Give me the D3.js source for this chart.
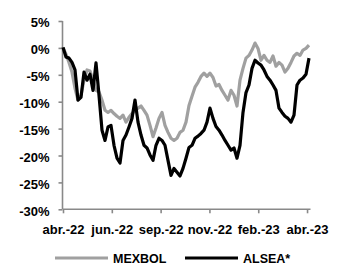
<!DOCTYPE html>
<html>
<head>
<meta charset="utf-8">
<script src="https://cdn.jsdelivr.net/npm/d3@7"></script>
<style>
  body { margin: 0; background: #fff; }
  text { font-family: "Liberation Sans", Arial, sans-serif; font-weight: bold; fill: #000; }
</style>
</head>
<body>
<div id="chart"></div>
<script>
// Returns in % since abr.-22, sampled about every 3 trading days
let mexbol = [0.1, -1.2, -2.7, -4.5, -7.5, -9.7, -8.8, -6.0, -4.1, -4.3, -6.0, -7.9, -8.2, -9.7, -11.6, -12.0, -11.6, -12.2, -12.7, -13.1,
	-12.5, -13.8, -12.9, -12.2, -11.6, -11.2, -10.8, -11.6, -12.5, -14.4, -16.5, -14.9, -13.1, -12.0, -14.4, -15.7, -16.8, -17.2, -16.8, -15.7,
	-15.3, -13.8, -10.7, -9.0, -7.3, -6.4, -5.3, -4.7, -5.3, -4.7, -5.5, -7.1, -6.8, -7.9, -8.8, -9.7, -7.9, -8.8, -10.8, -6.0,
	-3.8, -1.9, -1.4, -0.4, 0.9, -0.1, -2.3, -1.4, -2.3, -2.7, -1.5, -3.4, -2.7, -3.2, -4.5, -3.8, -2.7, -1.5, -1.0, -1.4,
	-0.4, -0.1, 0.5];
let alsea = [0.1, -1.7, -1.9, -2.7, -4.1, -9.7, -9.2, -4.5, -6.0, -4.9, -7.9, -2.8, -8.8, -15.3, -17.2, -14.7, -14.4, -18.1, -20.5, -21.4,
	-17.2, -16.2, -14.7, -13.1, -9.7, -13.8, -16.2, -18.1, -18.6, -19.9, -20.9, -18.1, -16.8, -17.2, -18.1, -20.9, -23.7, -22.4, -23.1, -23.8,
	-22.4, -20.5, -18.5, -18.1, -16.8, -16.4, -15.9, -15.3, -13.8, -11.2, -13.1, -14.6, -15.3, -16.2, -17.2, -18.1, -19.0, -18.6, -20.5, -18.1,
	-12.0, -8.3, -6.9, -3.8, -2.3, -2.8, -3.2, -4.1, -5.3, -6.0, -6.9, -7.9, -11.2, -12.0, -12.7, -13.1, -13.8, -12.5, -6.9, -6.0,
	-5.6, -4.9, -1.9];

// Axis labels (ticks every 50 trading days)
let tickDays = [0, 50, 100, 150, 200, 250];
let tickLabels = ["abr.-22", "jun.-22", "sep.-22", "nov.-22", "feb.-23", "abr.-23"];
let yTicks = [5, 0, -5, -10, -15, -20, -25, -30];
let seriesNames = ["MEXBOL", "ALSEA*"];
let totalDays = 252;

let width = 342, height = 265;
let axisColor = "#898989";

let svg = d3.select("#chart")
	.append("svg")
	.attr("width", width)
	.attr("height", height);

let x = d3.scaleLinear().domain([0, totalDays]).range([63, 309]);
let y = d3.scaleLinear().domain([-30, 5]).range([209.3, 21]);

let step = totalDays / (mexbol.length - 1);

let line = d3.line()
	.x(function (d, i) { return x(i * step); })
	.y(function (d) { return y(d); });

// Y axis
let yAxis = svg.append("g")
	.attr("transform", "translate(62.5,0)")
	.call(d3.axisLeft(y).tickValues(yTicks).tickSize(4).tickFormat(function (d) { return d + "%"; }));
yAxis.select(".domain").attr("d", "M0," + y(5) + "V" + y(-30)).attr("stroke", axisColor).attr("stroke-width", 1.6);
yAxis.selectAll(".tick line").attr("stroke", axisColor).attr("stroke-width", 1.6);
yAxis.selectAll(".tick text")
	.attr("x", -13)
	.attr("dy", "0.45em")
	.style("font-size", "13px")
	.style("font-family", "'Liberation Sans', Arial, sans-serif")
	.style("font-weight", "bold")
	.attr("fill", "#000");

// X axis
let xAxis = svg.append("g")
	.attr("transform", "translate(0," + y(-30) + ")")
	.call(d3.axisBottom(x).tickValues(tickDays).tickSize(4).tickFormat(function (d, i) { return tickLabels[i]; }));
xAxis.select(".domain").attr("d", "M" + x(0) + ",0H310.5").attr("stroke", axisColor).attr("stroke-width", 1.6);
xAxis.selectAll(".tick line").attr("stroke", axisColor).attr("stroke-width", 1.6);
xAxis.selectAll(".tick text")
	.attr("y", 15)
	.attr("dy", "0.71em")
	.style("font-size", "13px")
	.style("font-family", "'Liberation Sans', Arial, sans-serif")
	.style("font-weight", "bold")
	.attr("fill", "#000");

// Lines: MEXBOL grey underneath, ALSEA black on top
svg.append("path")
	.datum(mexbol)
	.attr("fill", "none")
	.attr("stroke", "#a0a0a0")
	.attr("stroke-width", 3.2)
	.attr("stroke-linejoin", "round")
	.attr("d", line);

svg.append("path")
	.datum(alsea)
	.attr("fill", "none")
	.attr("stroke", "#000")
	.attr("stroke-width", 3.2)
	.attr("stroke-linejoin", "round")
	.attr("d", line);

// Legend
let legend = [
	{ name: seriesNames[0], color: "#a0a0a0", x1: 55, x2: 108 },
	{ name: seriesNames[1], color: "#000", x1: 185, x2: 238 }
];
let lg = svg.selectAll(".legend")
	.data(legend)
	.enter().append("g")
	.attr("class", "legend");
lg.append("line")
	.attr("x1", function (d) { return d.x1; })
	.attr("x2", function (d) { return d.x2; })
	.attr("y1", 258)
	.attr("y2", 258)
	.attr("stroke", function (d) { return d.color; })
	.attr("stroke-width", 3);
lg.append("text")
	.attr("x", function (d) { return d.x2 + 5; })
	.attr("y", 262.5)
	.style("font-size", "12.5px")
	.text(function (d) { return d.name; });
</script>
</body>
</html>
